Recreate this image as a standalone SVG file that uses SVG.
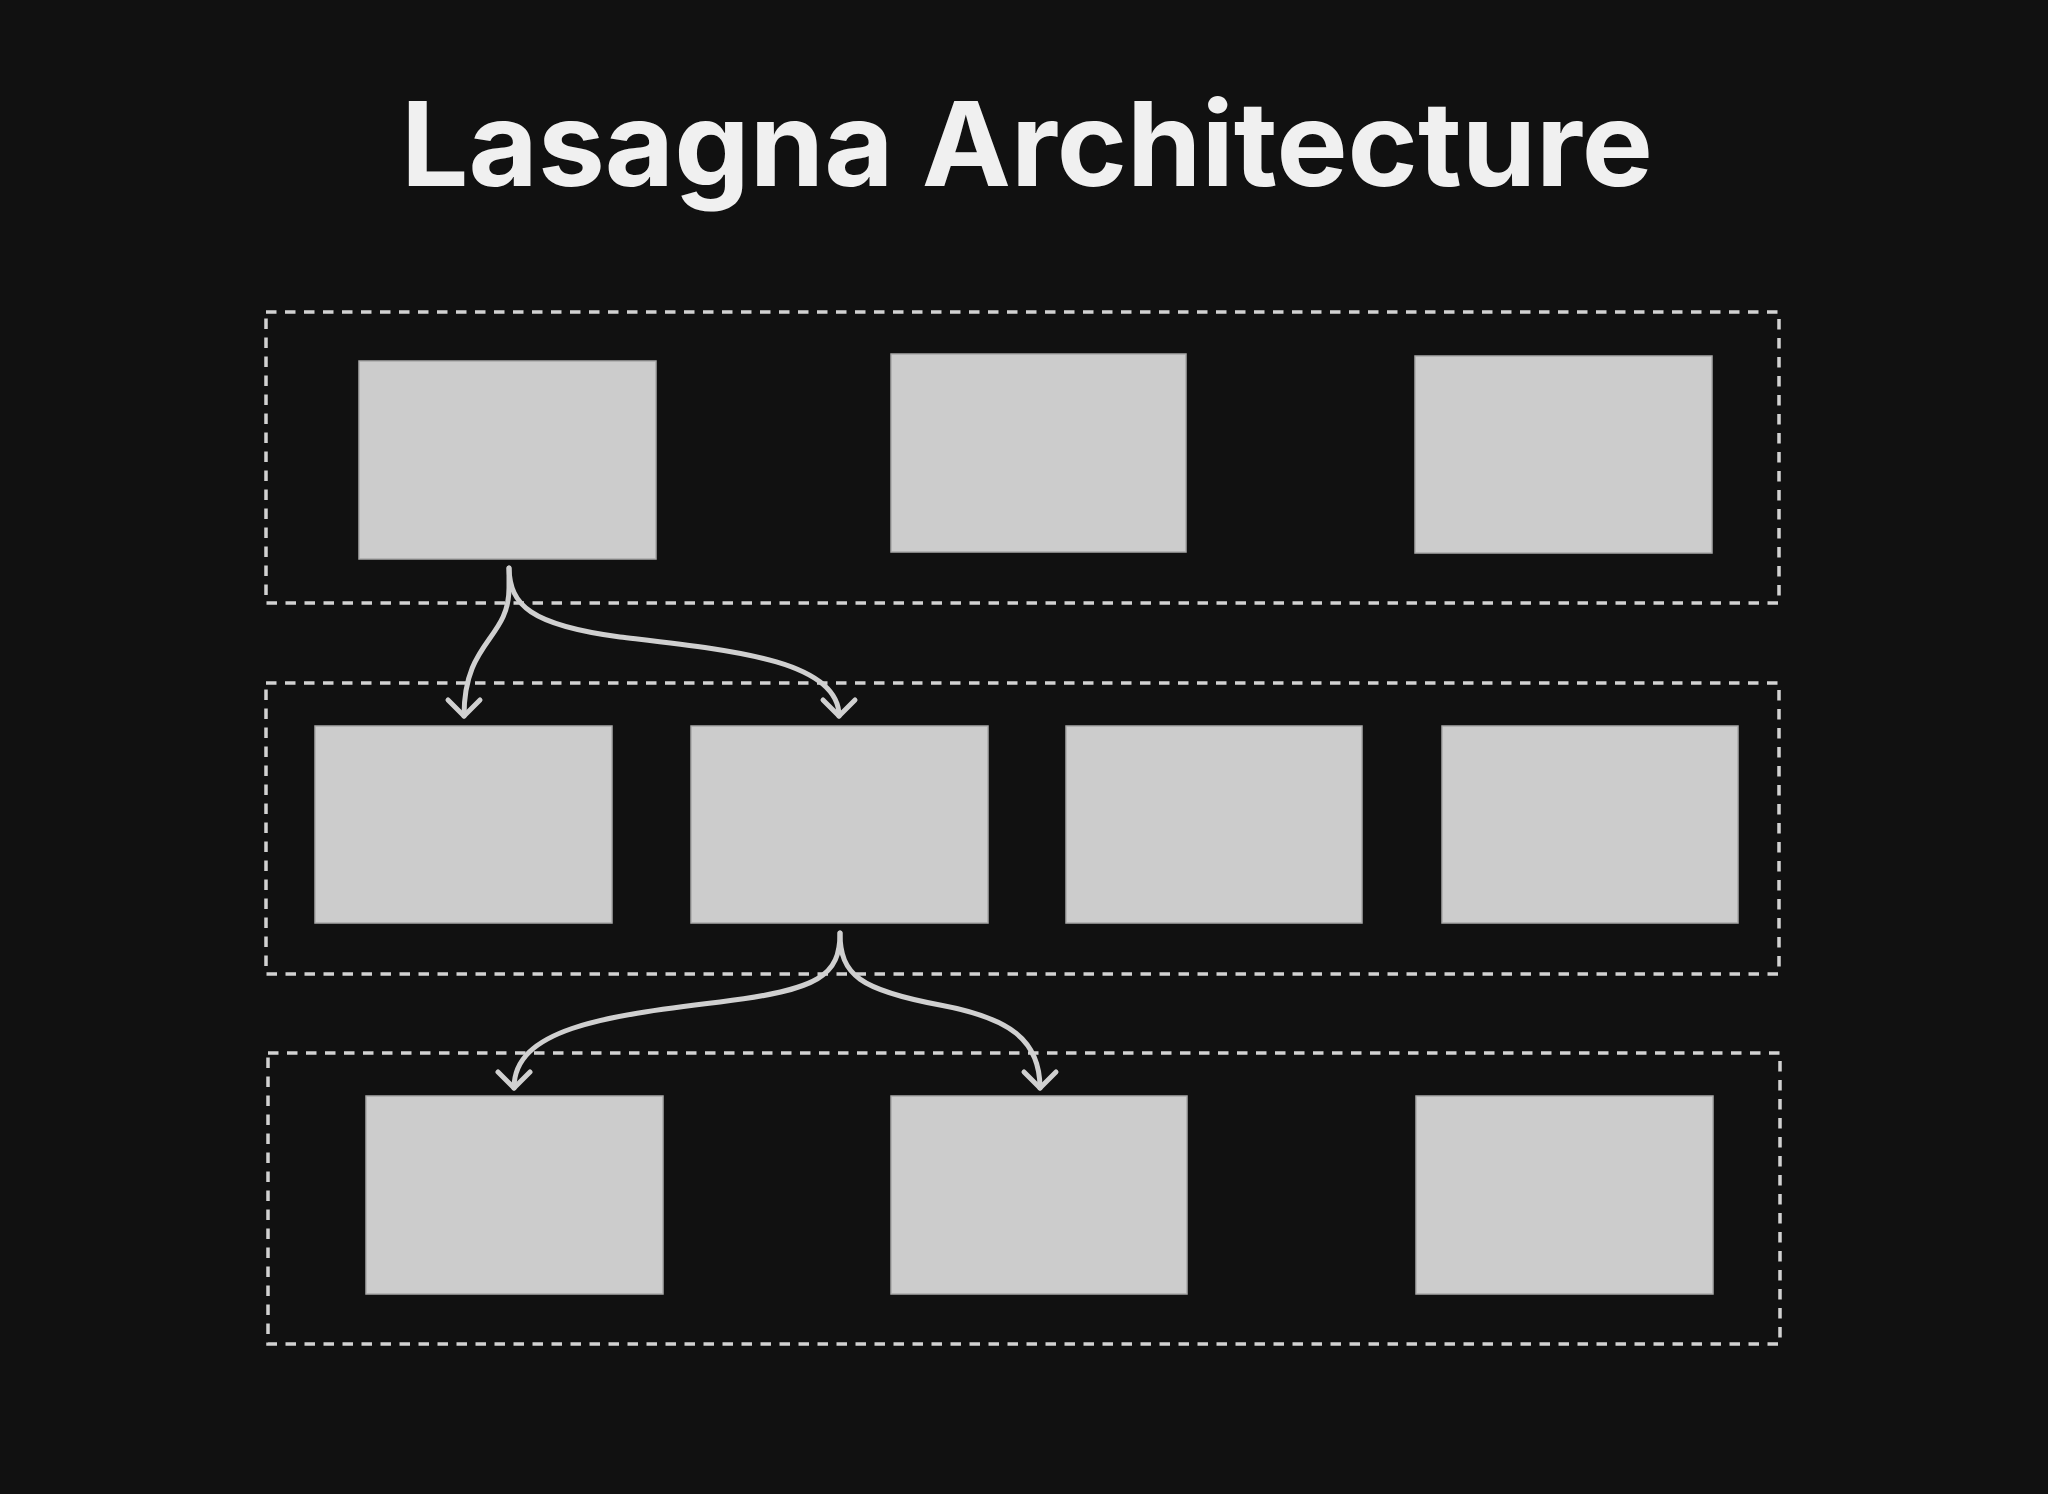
<svg xmlns="http://www.w3.org/2000/svg" width="2048" height="1494" viewBox="0 0 2048 1494">
  <style>
    .title { font-family: Inter, "Liberation Sans", "DejaVu Sans", sans-serif; font-weight: 700; font-size: 117px; fill: #f0f0f0; }
    .layer { fill: none; stroke: #d2d2d2; stroke-width: 3.5; stroke-dasharray: 10.5 8.5; }
    .box { fill: #cccccc; stroke: #a9a9a9; stroke-width: 1.5; }
    .conn { fill: none; stroke: #d0d0d0; stroke-width: 5; stroke-linecap: round; marker-end: url(#chev); }
  </style>
  <defs>
    <marker id="chev" markerUnits="userSpaceOnUse" viewBox="-20 -20 40 40" markerWidth="40" markerHeight="40" refX="0" refY="0" orient="auto">
      <path d="M-16,-16 L0,0 L-16,16" fill="none" stroke="#d0d0d0" stroke-width="5" stroke-linecap="round" stroke-linejoin="round"/>
    </marker>
  </defs>
  <rect x="0" y="0" width="2048" height="1494" fill="#111111"/>

  <text class="title" x="1027" y="186" text-anchor="middle" textLength="1252" lengthAdjust="spacingAndGlyphs">Lasagna Architecture</text>

  <g id="layer-1">
    <rect class="layer" x="266" y="312" width="1513" height="291"/>
  </g>
  <g id="layer-2">
    <rect class="layer" x="266" y="683" width="1513" height="291"/>
  </g>
  <g id="layer-3">
    <rect class="layer" x="268" y="1053" width="1512" height="291"/>
  </g>

  <g id="node-1-1"><rect class="box" x="359" y="361" width="297" height="198"/></g>
  <g id="node-1-2"><rect class="box" x="891" y="354" width="295" height="198"/></g>
  <g id="node-1-3"><rect class="box" x="1415" y="356" width="297" height="197"/></g>

  <g id="node-2-1"><rect class="box" x="315" y="726" width="297" height="197"/></g>
  <g id="node-2-2"><rect class="box" x="691" y="726" width="297" height="197"/></g>
  <g id="node-2-3"><rect class="box" x="1066" y="726" width="296" height="197"/></g>
  <g id="node-2-4"><rect class="box" x="1442" y="726" width="296" height="197"/></g>

  <g id="node-3-1"><rect class="box" x="366" y="1096" width="297" height="198"/></g>
  <g id="node-3-2"><rect class="box" x="891" y="1096" width="296" height="198"/></g>
  <g id="node-3-3"><rect class="box" x="1416" y="1096" width="297" height="198"/></g>

  <g id="connectors">
    <path class="conn" d="M509,568 L509,588 C509,640 464,640 464,716"/>
    <path class="conn" d="M509,568 C510,605 530,625 620,637 C730,650 839,660 839,716"/>
    <path class="conn" d="M840,933 C840,975 820,990 720,1002 C600,1016 514,1030 514,1088"/>
    <path class="conn" d="M840,933 C840,975 860,990 940,1005 C1010,1018 1040,1040 1040,1088"/>
  </g>
</svg>
